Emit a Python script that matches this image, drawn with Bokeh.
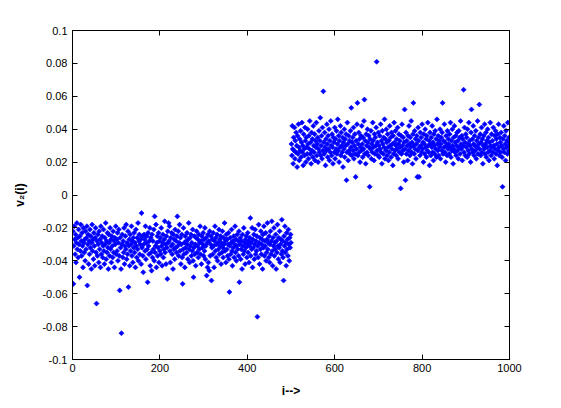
import math
from bokeh.plotting import figure
from bokeh.models import Range1d, FixedTicker, LinearAxis, ColumnDataSource
from bokeh.embed import file_html
from bokeh.resources import INLINE

# values in thousandths
first_half = [
    -22, -54, -31, -19, -27, -36, -24, -41, -29, -17, -33, -26, -38, -21, -30, -50, -25, -34, -18, -28,
    -37, -23, -31, -44, -20, -29, -35, -27, -40, -22, -33, -26, -19, -55, -30, -24, -42, -28, -36, -21,
    -32, -25, -45, -29, -18, -34, -27, -39, -23, -31, -43, -26, -20, -35, -66, -28, -37, -24, -30, -41,
    -22, -33, -27, -44, -19, -36, -29, -25, -38, -31, -21, -34, -42, -26, -30, -17, -39, -28, -35, -23,
    -32, -45, -24, -29, -37, -20, -33, -27, -41, -25, -31, -38, -22, -35, -28, -44, -26, -30, -19, -36,
    -27, -34, -23, -40, -29, -21, -37, -58, -26, -32, -45, -84, -30, -24, -38, -28, -35, -20, -42, -31,
    -25, -33, -18, -39, -29, -36, -22, -56, -31, -27, -43, -24, -34, -30, -19, -37, -28, -41, -26, -32,
    -23, -35, -29, -44, -21, -31, -38, -26, -33, -17, -40, -28, -24, -36, -30, -27, -42, -11, -32, -25,
    -37, -47, -30, -24, -27, -34, -19, -39, -29, -25, -33, -53, -23, -31, -36, -28, -20, -43, -26, -35,
    -46, -24, -38, -28, -33, -21, -40, -13, -35, -31, -18, -44, -29, -25, -37, -32, -23, -41, -28, -34,
    -26, -36, -20, -31, -43, -29, -24, -38, -33, -27, -16, -35, -30, -42, -25, -32, -51, -22, -29, -17,
    -28, -19, -34, -41, -26, -31, -23, -36, -30, -45, -24, -33, -27, -39, -21, -32, -28, -35, -25, -13,
    -31, -22, -37, -29, -18, -34, -26, -42, -30, -24, -38, -54, -33, -20, -36, -29, -44, -25, -32, -28,
    -35, -23, -30, -39, -27, -17, -33, -41, -26, -31, -24, -37, -29, -34, -21, -40, -50, -32, -25, -36,
    -30, -43, -26, -22, -35, -31, -27, -38, -24, -33, -29, -19, -36, -28, -42, -25, -32, -30, -23, -37,
    -27, -34, -20, -39, -31, -26, -49, -29, -44, -24, -41, -28, -46, -22, -37, -30, -25, -52, -32, -27,
    -36, -23, -31, -44, -28, -19, -34, -26, -38, -30, -24, -40, -29, -33, -21, -36, -27, -31, -25, -42,
    -29, -35, -22, -32, -38, -26, -30, -17, -34, -28, -41, -24, -33, -27, -37, -30, -23, -39, -59, -31,
    -26, -36, -29, -21, -34, -43, -28, -32, -25, -38, -30, -19, -35, -27, -40, -31, -24, -33, -28, -37,
    -22, -53, -30, -26, -39, -33, -28, -45, -24, -31, -36, -20, -34, -29, -42, -27, -32, -25, -38, -30,
    -23, -35, -28, -41, -31, -26, -14, -37, -29, -33, -20, -44, -27, -32, -24, -39, -30, -21, -36, -28,
    -34, -25, -74, -31, -38, -18, -29, -42, -26, -33, -22, -36, -30, -27, -45, -24, -32, -19, -37, -28,
    -31, -23, -40, -35, -27, -17, -33, -29, -38, -25, -41, -30, -22, -36, -28, -16, -34, -43, -26, -31,
    -20, -37, -29, -33, -24, -45, -28, -35, -18, -31, -39, -26, -32, -22, -41, -30, -27, -36, -15, -34,
    -28, -38, -52, -25, -31, -19, -35, -29, -43, -23, -33, -27, -37, -21, -30, -40, -26, -32, -24, -29,
]
second_half = [
    31, 24, 42, 28, 19, 35, 27, 41, 22, 33, 26, 38, 30, 17, 36, 25, 43, 29, 21, 34,
    27, 39, 23, 32, 44, 26, 30, 18, 37, 28, 24, 41, 33, 20, 35, 29, 25, 40, 31, 22,
    36, 28, 45, 25, 32, 19, 38, 27, 34, 23, 42, 30, 26, 37, 21, 33, 29, 44, 24, 31,
    35, 20, 28, 39, 26, 33, 47, 24, 30, 36, 22, 41, 27, 63, 32, 25, 38, 29, 18, 34,
    27, 43, 31, 23, 36, 28, 40, 21, 33, 26, 45, 30, 24, 37, 29, 19, 35, 32, 26, 41,
    22, 34, 28, 39, 25, 31, 46, 27, 36, 20, 33, 29, 42, 24, 38, 30, 26, 35, 17, 32,
    28, 40, 23, 34, 30, 37, 9, 26, 44, 31, 21, 36, 27, 33, 25, 39, 29, 53, 24, 32,
    35, 27, 41, 22, 30, 37, 25, 11, 33, 28, 43, 56, 24, 31, 38, 26, 34, 20, 29, 36,
    27, 42, 31, 23, 35, 28, 45, 58, 25, 33, 19, 37, 30, 26, 40, 32, 24, 36, 29, 5,
    34, 28, 39, 22, 31, 26, 44, 33, 29, 21, 37, 25, 35, 30, 41, 81, 27, 32, 24, 38,
    30, 23, 36, 28, 43, 26, 33, 19, 39, 31, 25, 35, 29, 46, 22, 34, 27, 40, 32, 24,
    37, 29, 21, 33, 26, 42, 30, 35, 23, 38, 28, 31, 18, 36, 25, 44, 32, 27, 39, 30,
    24, 34, 28, 41, 22, 31, 37, 26, 33, 29, 4, 36, 25, 43, 30, 27, 35, 20, 32, 52,
    28, 9, 38, 25, 33, 30, 21, 36, 27, 42, 31, 24, 35, 29, 45, 26, 32, 19, 37, 56,
    30, 25, 39, 28, 34, 22, 31, 36, 11, 27, 41, 33, 11, 29, 24, 38, 30, 35, 26, 43,
    28, 32, 20, 37, 31, 25, 40, 29, 34, 23, 36, 27, 44, 30, 26, 33, 18, 38, 31, 24,
    35, 29, 42, 26, 32, 21, 37, 30, 25, 39, 28, 34, 23, 46, 31, 27, 36, 24, 33, 29,
    40, 22, 31, 35, 27, 38, 56, 25, 33, 29, 43, 26, 32, 20, 36, 30, 24, 39, 28, 34,
    31, 25, 37, 29, 44, 23, 33, 27, 40, 30, 19, 35, 28, 42, 26, 32, 36, 24, 30, 38,
    27, 33, 22, 39, 29, 35, 25, 45, 31, 28, 36, 21, 34, 30, 64, 26, 41, 32, 24, 37,
    29, 35, 23, 40, 31, 27, 44, 25, 33, 30, 20, 38, 52, 28, 34, 26, 42, 31, 24, 36,
    30, 27, 39, 22, 33, 29, 45, 25, 35, 31, 55, 28, 37, 24, 32, 41, 26, 34, 19, 30,
    36, 28, 43, 25, 31, 38, 23, 33, 29, 40, 26, 35, 21, 32, 27, 44, 30, 24, 37, 29,
    33, 26, 41, 30, 22, 36, 28, 39, 25, 34, 31, 18, 37, 27, 43, 29, 24, 35, 32, 26,
    38, 30, 23, 5, 34, 28, 42, 26, 36, 31, 21, 39, 29, 33, 25, 44, 30, 27, 35, 32,
]
x_ticks = [0, 200, 400, 600, 800, 1000]
y_ticks = [-0.1, -0.08, -0.06, -0.04, -0.02, 0, 0.02, 0.04, 0.06, 0.08, 0.1]
y_tick_labels = ["-0.1", "-0.08", "-0.06", "-0.04", "-0.02", "0", "0.02", "0.04", "0.06", "0.08", "0.1"]

vals = [v / 1000 for v in first_half + second_half]
idx = list(range(1, len(vals) + 1))
src = ColumnDataSource(dict(i=idx, v=vals))

FONT = "Liberation Sans"

p = figure(width=553, height=400, output_backend="svg", toolbar_location=None,
           x_range=Range1d(0, 1000), y_range=Range1d(-0.1, 0.1),
           min_border_left=72, min_border_right=44, min_border_top=30, min_border_bottom=39)
p.xgrid.visible = False
p.ygrid.visible = False
p.outline_line_color = "black"
p.outline_line_width = 1
p.background_fill_color = "white"
p.border_fill_color = "white"

p.scatter("i", "v", source=src, marker="square", angle=math.pi / 4, size=3.6,
          fill_color="#0000ff", line_color="#0000ff", line_width=0.6)

def style(ax, labels=True):
    ax.axis_line_color = "black"
    ax.major_tick_in = 5
    ax.major_tick_out = 0
    ax.minor_tick_in = 0
    ax.minor_tick_out = 0
    ax.major_tick_line_color = "black"
    ax.major_label_text_font = FONT
    ax.major_label_text_font_size = "11px"
    ax.major_label_text_color = "black"
    if not labels:
        ax.major_label_text_color = None
        ax.major_label_standoff = 0

p.xaxis.ticker = FixedTicker(ticks=x_ticks)
p.yaxis.ticker = FixedTicker(ticks=y_ticks)
p.yaxis.major_label_overrides = {t: s for t, s in zip(y_ticks, y_tick_labels)}
style(p.xaxis[0])
style(p.yaxis[0])
p.xaxis.major_label_standoff = 4
p.yaxis.major_label_standoff = 5

p.xaxis.axis_label = "i-->"
p.yaxis.axis_label = "v\u2082(i)"
for ax in (p.xaxis[0], p.yaxis[0]):
    ax.axis_label_text_font = FONT
    ax.axis_label_text_font_size = "12px"
    ax.axis_label_text_font_style = "bold"
    ax.axis_label_text_color = "black"
p.xaxis.axis_label_standoff = 9
p.yaxis.axis_label_standoff = 12

top = LinearAxis(ticker=FixedTicker(ticks=x_ticks))
right = LinearAxis(ticker=FixedTicker(ticks=y_ticks))
style(top, labels=False)
style(right, labels=False)
p.add_layout(top, "above")
p.add_layout(right, "right")

open("out.html", "w").write(file_html(p, INLINE))
